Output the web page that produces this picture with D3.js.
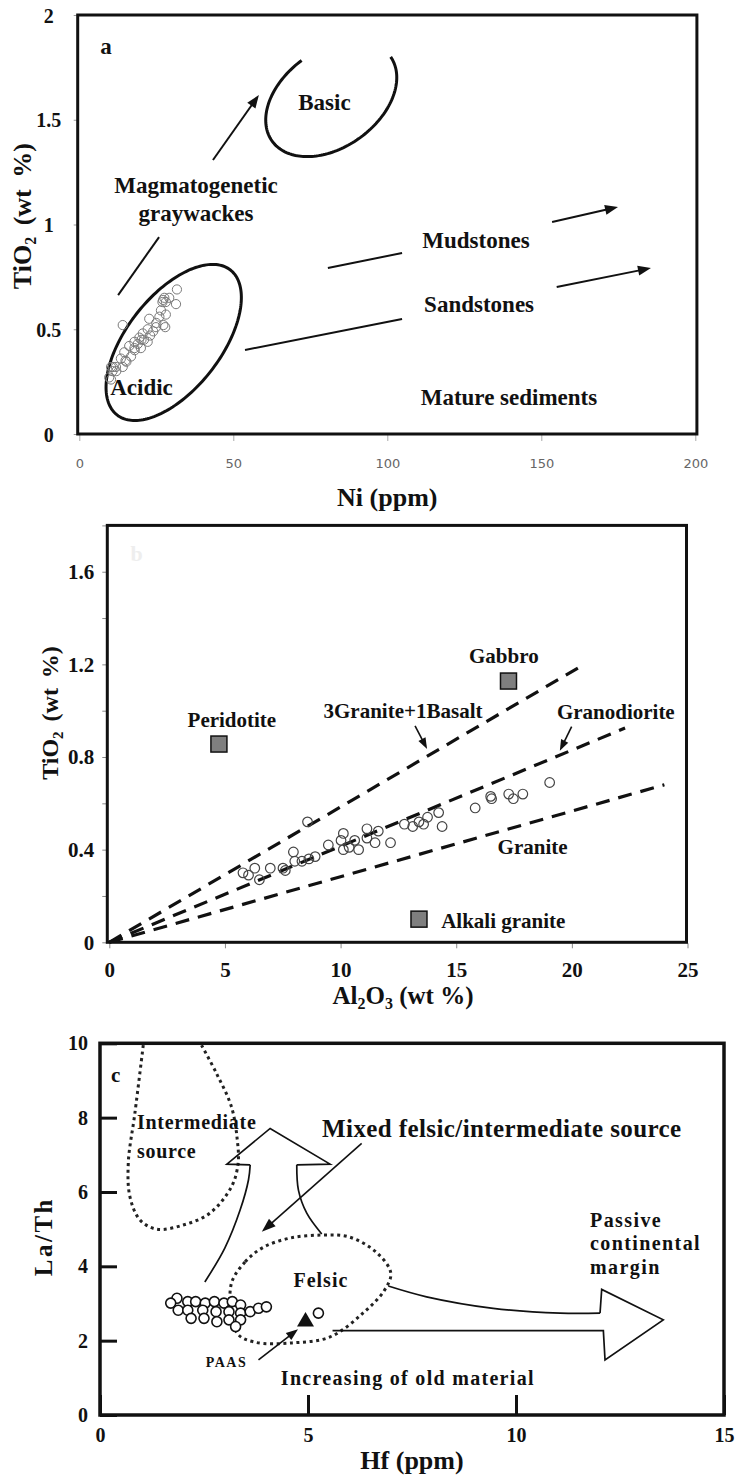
<!DOCTYPE html>
<html><head><meta charset="utf-8">
<script src="https://cdn.jsdelivr.net/npm/d3@7"></script>
<style>
body{margin:0;background:#fff;}
svg text{font-family:"Liberation Serif","Times New Roman",serif;font-weight:bold;fill:#111;}
</style></head><body>
<svg id="chart" width="739" height="1475"></svg>
<script>
// ---------- Panel a: TiO2 vs Ni ----------
const niTicks = [0, 50, 100, 150, 200];
const tiTicksA = [0, 0.5, 1, 1.5, 2];
const niValues = [31.7, 31.4, 29.2, 27.6, 28.1, 26.5, 28.1, 27.3, 22.7, 22.2, 24.9, 20.6, 19.5, 17.9, 22.2, 20.0, 17.9, 16.2, 14.6, 16.8, 13.5, 11.9, 14.1, 10.3, 10.8, 9.7, 14.1, 23.0, 21.0, 19.0, 25.0, 26.0, 18.0, 15.0, 12.0, 27.0, 24.0, 27.9, 27.2, 20.2, 15.3, 10.9, 10.3];
const tiValuesA = [0.69, 0.62, 0.65, 0.65, 0.63, 0.59, 0.57, 0.52, 0.55, 0.50, 0.51, 0.48, 0.46, 0.44, 0.44, 0.41, 0.41, 0.42, 0.39, 0.37, 0.36, 0.32, 0.32, 0.32, 0.30, 0.27, 0.52, 0.47, 0.45, 0.43, 0.53, 0.56, 0.40, 0.35, 0.30, 0.63, 0.49, 0.51, 0.64, 0.45, 0.345, 0.32, 0.26];
// ellipse: centre, first and second semi-axis vectors (data units), arc start/end angle (deg)
const basicField = [81.8, 1.60, 19.3, 0.20, 8.95, -0.19, 0, 268];
const acidicField = [30.65, 0.437, 18.4, 0.346, 12.0, -0.138, 0, 360];
const labelsA = [
  ["Basic", 79.6, 1.585], ["Magmatogenetic", 37.9, 1.19], ["graywackes", 37.9, 1.055],
  ["Mudstones", 128.8, 0.926], ["Sandstones", 129.8, 0.62], ["Acidic", 20.2, 0.224],
  ["Mature sediments", 139.5, 0.177]
];
// [x1, y1, x2, y2, arrowhead?]
const trendsA = [
  [12.6, 0.663, 25.9, 0.94, false], [43.4, 1.308, 58.3, 1.618, true],
  [80.7, 0.792, 104.8, 0.864, false], [153.5, 1.012, 174.9, 1.084, true],
  [53.8, 0.401, 104.8, 0.549, false], [155.0, 0.702, 185.6, 0.792, true]
];

// ---------- Panel b: TiO2 vs Al2O3 ----------
const alTicks = [0, 5, 10, 15, 20, 25];
const tiTicksB = [0, 0.2, 0.4, 0.6, 0.8, 1.0, 1.2, 1.4, 1.6, 1.8];
const alValues = [8.57, 5.78, 6.02, 6.29, 6.49, 6.96, 7.51, 7.61, 7.96, 8.02, 8.33, 8.63, 8.9, 9.47, 10.02, 10.12, 10.12, 10.37, 10.61, 10.78, 11.14, 11.14, 11.49, 11.63, 12.16, 12.76, 13.12, 13.39, 13.59, 13.76, 14.24, 14.39, 15.82, 16.49, 16.53, 17.27, 17.47, 17.88, 19.04];
const tiValuesB = [0.52, 0.30, 0.29, 0.32, 0.27, 0.32, 0.32, 0.31, 0.39, 0.35, 0.35, 0.36, 0.37, 0.42, 0.44, 0.47, 0.40, 0.41, 0.44, 0.40, 0.49, 0.45, 0.43, 0.48, 0.43, 0.51, 0.50, 0.52, 0.51, 0.54, 0.56, 0.50, 0.58, 0.63, 0.62, 0.64, 0.62, 0.64, 0.69];
const rockNames = ["Peridotite", "Gabbro", "Alkali granite"];
const rockAl = [4.74, 17.26, 13.39];
const rockTi = [0.856, 1.128, 0.10];
const mixEndAl = [20.26, 22.3, 24.0];
const mixEndTi = [1.184, 0.925, 0.68];
const labelsB = [
  ["Peridotite", 5.3, 0.96, "middle"], ["Gabbro", 17.06, 1.237, "middle"],
  ["3Granite+1Basalt", 12.7, 1.0, "middle"], ["Granodiorite", 21.9, 0.996, "middle"],
  ["Granite", 18.3, 0.413, "middle"], ["Alkali granite", 14.35, 0.093, "start"]
];
const pointersB = [[13.22, 0.934, 13.74, 0.835], [19.99, 0.931, 19.48, 0.827]];

// ---------- Panel c: La/Th vs Hf ----------
const hfTicks = [0, 5, 10, 15];
const laThTicks = [0, 2, 4, 6, 8, 10];
const hfValues = [1.85, 1.70, 2.11, 2.30, 2.53, 2.75, 2.98, 3.18, 3.38, 1.88, 2.11, 2.47, 2.79, 3.10, 3.38, 2.19, 2.50, 2.81, 3.10, 3.38, 3.26, 3.61, 3.81, 4.00, 5.25];
const laThValues = [3.14, 3.01, 3.05, 3.05, 3.01, 3.05, 3.01, 3.05, 2.96, 2.82, 2.82, 2.82, 2.78, 2.78, 2.74, 2.60, 2.60, 2.51, 2.56, 2.56, 2.38, 2.78, 2.87, 2.91, 2.74];
const paas = [4.94, 2.51];
const intermediateHf = [1.04, 0.84, 0.68, 0.72, 0.96, 1.36, 2.00, 2.64, 3.16, 3.32, 3.30, 3.16, 2.80, 2.44];
const intermediateLaTh = [9.95, 8.13, 6.78, 5.87, 5.25, 5.00, 5.11, 5.43, 6.14, 6.77, 7.40, 8.29, 9.19, 9.95];
const felsicHf = [3.15, 3.49, 3.94, 4.57, 5.31, 5.99, 6.66, 6.99, 6.84, 6.32, 5.53, 4.62, 3.72, 3.29];
const felsicLaTh = [3.50, 4.12, 4.52, 4.76, 4.84, 4.79, 4.36, 3.82, 3.36, 2.74, 2.10, 1.94, 1.96, 2.21];
const upArrowLeft = [[2.52, 3.58], [3.0, 4.49], [3.37, 5.52], [3.57, 6.33], [3.61, 6.73]];
const upArrowHead = [[3.61, 6.73], [3.05, 6.75], [4.09, 7.71], [5.53, 6.75], [4.73, 6.73]];
const upArrowRight = [[4.73, 6.73], [4.77, 6.05], [4.97, 5.43], [5.33, 4.87]];
const rightArrowTop = [[6.93, 3.47], [7.85, 3.18], [9.45, 2.87], [11.06, 2.74], [12.02, 2.74]];
const rightArrowHead = [[12.02, 2.74], [12.06, 3.38], [13.54, 2.56], [12.14, 1.48], [12.10, 2.27], [5.59, 2.27]];
const labelsC = [
  ["Intermediate", 0.89, 7.88, "start", 20, 0.7], ["source", 0.89, 7.10, "start", 20, 0.7],
  ["Mixed felsic/intermediate source", 9.66, 7.72, "middle", 25, 0.4],
  ["Felsic", 5.31, 3.63, "middle", 20, 1],
  ["Passive", 11.78, 5.25, "start", 20, 1.4], ["continental", 11.78, 4.63, "start", 20, 1.4],
  ["margin", 11.78, 3.98, "start", 20, 1.4],
  ["PAAS", 3.04, 1.43, "middle", 14, 1.5],
  ["Increasing of old material", 7.40, 1.0, "middle", 20, 1.3]
];
const pointersC = [[6.29, 7.31, 3.89, 4.93, 14, 10], [3.81, 1.48, 4.76, 2.31, 12, 9]];

const svg = d3.select("#chart");

// straight line with an optional filled arrowhead at its end (pixel coords)
function arrowLine(g, x1, y1, x2, y2, head, len, wid, sw) {
  const dx = x2 - x1, dy = y2 - y1, L = Math.hypot(dx, dy);
  const ux = dx / L, uy = dy / L;
  const ex = head ? x2 - ux * len * 0.8 : x2, ey = head ? y2 - uy * len * 0.8 : y2;
  g.append("line").attr("x1", x1).attr("y1", y1).attr("x2", ex).attr("y2", ey)
    .attr("stroke", "#111").attr("stroke-width", sw);
  if (head) {
    const bx = x2 - ux * len, by = y2 - uy * len;
    const pts = [[x2, y2], [bx - uy * wid / 2, by + ux * wid / 2], [bx + uy * wid / 2, by - ux * wid / 2]];
    g.append("polygon").attr("points", pts.map(p => p.join(",")).join(" ")).attr("fill", "#111");
  }
}

function ellipsePath(x, y, e) {
  const [cx, cy, ax, ay, bx, by, t0, t1] = e;
  const pts = d3.range(t0, t1 + 0.5, 2).map(d => {
    const t = d * Math.PI / 180;
    return [x(cx + Math.cos(t) * ax + Math.sin(t) * bx), y(cy + Math.cos(t) * ay + Math.sin(t) * by)];
  });
  return d3.line()(pts) + (t1 - t0 >= 360 ? "Z" : "");
}

// ===== Panel a =====
(function () {
  const x = d3.scaleLinear().domain([0, 200]).range([79.3, 695.3]);
  const y = d3.scaleLinear().domain([0, 2]).range([434, 15]);
  const g = svg.append("g");

  const ya = g.append("g").attr("transform", `translate(${x(0) - 1.6},0)`)
    .call(d3.axisLeft(y).tickValues(tiTicksA).tickSize(4).tickFormat(d3.format("")));
  ya.select(".domain").remove();
  ya.selectAll("line").attr("stroke", "#999");
  ya.selectAll("text").attr("x", -29).attr("text-anchor", "middle").attr("dy", "0.35em")
    .style("font-size", "20px").style("fill", "#111");

  const xa = g.append("g").attr("transform", `translate(0,${y(0)})`)
    .call(d3.axisBottom(x).tickValues(niTicks).tickSize(7));
  xa.select(".domain").remove();
  xa.selectAll("line").attr("stroke", "#aaa");
  xa.selectAll("text").attr("y", 29).attr("dy", "0.35em")
    .style("font-family", "'DejaVu Sans',sans-serif").style("font-weight", "normal")
    .style("font-size", "13px").style("fill", "#666");

  g.append("rect").attr("x", x(0) - 1.6).attr("y", y(2)).attr("width", x(200) - x(0) + 3.2)
    .attr("height", y(0) - y(2)).attr("fill", "none").attr("stroke", "#111").attr("stroke-width", 3);

  g.append("text").attr("x", x(8.7)).attr("y", y(1.85)).attr("dy", "0.35em")
    .attr("text-anchor", "middle").style("font-size", "23px").text("a");

  [basicField, acidicField].forEach(e => g.append("path").attr("d", ellipsePath(x, y, e))
    .attr("fill", "none").attr("stroke", "#111").attr("stroke-width", 3));

  g.selectAll("circle.pt").data(niValues).join("circle").attr("class", "pt")
    .attr("cx", d => x(d)).attr("cy", (d, i) => y(tiValuesA[i])).attr("r", 4.6)
    .attr("fill", "none").attr("stroke", "#7a7a7a").attr("stroke-width", 1);

  trendsA.forEach(t => arrowLine(g, x(t[0]), y(t[1]), x(t[2]), y(t[3]), t[4], 13, 10, 2));

  labelsA.forEach(l => g.append("text").attr("x", x(l[1])).attr("y", y(l[2])).attr("dy", "0.35em")
    .attr("text-anchor", "middle").style("font-size", "23px").text(l[0]));

  const yt = g.append("text").attr("transform", `translate(31,${y(1.04)}) rotate(-90)`)
    .attr("text-anchor", "middle").style("font-size", "26px").style("word-spacing", "5px");
  yt.append("tspan").text("TiO");
  yt.append("tspan").attr("dy", 5).style("font-size", "16px").text("2");
  yt.append("tspan").attr("dy", -5).text(" (wt  %)");

  g.append("text").attr("x", x(100)).attr("y", 497).attr("dy", "0.35em").attr("text-anchor", "middle")
    .style("font-size", "26px").text("Ni (ppm)");
})();

// ===== Panel b =====
(function () {
  const x = d3.scaleLinear().domain([0, 25]).range([109.3, 687.5]);
  const y = d3.scaleLinear().domain([0, 1.8]).range([942.3, 525.4]);
  const g = svg.append("g");

  const ya = g.append("g").attr("transform", `translate(${x(0) - 2},0)`)
    .call(d3.axisLeft(y).tickValues(tiTicksB).tickSize(5).tickPadding(8)
      .tickFormat(d => (Math.round(d * 10) % 4 === 0) ? (d === 0 ? "0" : d3.format(".1f")(d)) : ""));
  ya.select(".domain").remove();
  ya.selectAll("line").attr("stroke", "#888");
  ya.selectAll("text").style("font-size", "21px").style("fill", "#111");

  const xa = g.append("g").attr("transform", `translate(0,${y(0) + 1})`)
    .call(d3.axisBottom(x).tickValues(alTicks).tickSize(5));
  xa.select(".domain").remove();
  xa.selectAll("line").attr("stroke", "#888");
  xa.selectAll("text").attr("y", 26).attr("dy", "0.35em").style("font-size", "21px").style("fill", "#111");

  g.append("rect").attr("x", x(0) - 2).attr("y", y(1.8)).attr("width", x(25) - x(0) + 1)
    .attr("height", y(0) - y(1.8)).attr("fill", "none").attr("stroke", "#111").attr("stroke-width", 3);

  g.append("text").attr("x", x(1.18)).attr("y", y(1.68)).attr("dy", "0.35em").attr("text-anchor", "middle")
    .style("font-size", "22px").style("fill", "#eeeeee").text("b");

  mixEndAl.forEach((a, i) => g.append("line").attr("x1", x(0)).attr("y1", y(0))
    .attr("x2", x(a)).attr("y2", y(mixEndTi[i])).attr("stroke", "#111")
    .attr("stroke-width", 3.2).attr("stroke-dasharray", "14,9"));

  g.selectAll("circle.pt").data(alValues).join("circle").attr("class", "pt")
    .attr("cx", d => x(d)).attr("cy", (d, i) => y(tiValuesB[i])).attr("r", 4.8)
    .attr("fill", "none").attr("stroke", "#444").attr("stroke-width", 1.2);

  g.selectAll("rect.rock").data(rockAl).join("rect").attr("class", "rock")
    .attr("x", d => x(d) - 8).attr("y", (d, i) => y(rockTi[i]) - 8).attr("width", 16).attr("height", 16)
    .attr("fill", "#7f7f7f").attr("stroke", "#111").attr("stroke-width", 1.5);

  pointersB.forEach(p => arrowLine(g, x(p[0]), y(p[1]), x(p[2]), y(p[3]), true, 11, 8, 1.6));

  labelsB.forEach(l => g.append("text").attr("x", x(l[1])).attr("y", y(l[2])).attr("dy", "0.35em")
    .attr("text-anchor", l[3]).style("font-size", "21px").text(l[0]));

  const yt = g.append("text").attr("transform", `translate(58,${y(0.99)}) rotate(-90)`)
    .attr("text-anchor", "middle").style("font-size", "24px").style("word-spacing", "4px");
  yt.append("tspan").text("TiO");
  yt.append("tspan").attr("dy", 5).style("font-size", "15px").text("2");
  yt.append("tspan").attr("dy", -5).text(" (wt  %)");

  const xt = g.append("text").attr("x", x(12.7)).attr("y", 995).attr("dy", "0.35em")
    .attr("text-anchor", "middle").style("font-size", "25px");
  xt.append("tspan").text("Al");
  xt.append("tspan").attr("dy", 5).style("font-size", "16px").text("2");
  xt.append("tspan").attr("dy", -5).text("O");
  xt.append("tspan").attr("dy", 5).style("font-size", "16px").text("3");
  xt.append("tspan").attr("dy", -5).text(" (wt %)");
})();

// ===== Panel c =====
(function () {
  const x = d3.scaleLinear().domain([0, 15]).range([100, 724]);
  const y = d3.scaleLinear().domain([0, 10]).range([1415, 1043.3]);
  const g = svg.append("g");

  const ya = g.append("g").attr("transform", `translate(${x(0)},0)`)
    .call(d3.axisLeft(y).tickValues(laThTicks).tickSize(-17).tickPadding(12));
  ya.select(".domain").remove();
  ya.selectAll("line").attr("stroke", "#111").attr("stroke-width", 3);
  ya.selectAll("text").style("font-size", "20px").style("fill", "#111");

  const xa = g.append("g").attr("transform", `translate(0,${y(0)})`)
    .call(d3.axisBottom(x).tickValues(hfTicks).tickSize(-20));
  xa.select(".domain").remove();
  xa.selectAll("line").attr("stroke", "#111").attr("stroke-width", 3);
  xa.selectAll("text").attr("y", 20).attr("dy", "0.35em").style("font-size", "20px").style("fill", "#111");

  g.append("rect").attr("x", x(0)).attr("y", y(10)).attr("width", x(15) - x(0))
    .attr("height", y(0) - y(10)).attr("fill", "none").attr("stroke", "#111").attr("stroke-width", 3.5);

  g.append("text").attr("x", x(0.375)).attr("y", y(9.15)).attr("dy", "0.35em").attr("text-anchor", "middle")
    .style("font-size", "21px").text("c");

  const curve = d3.line().x(d => x(d[0])).y(d => y(d[1])).curve(d3.curveCatmullRom);
  const closed = d3.line().x(d => x(d[0])).y(d => y(d[1])).curve(d3.curveCatmullRomClosed);
  const poly = d3.line().x(d => x(d[0])).y(d => y(d[1]));

  g.append("path").attr("d", curve(intermediateHf.map((h, i) => [h, intermediateLaTh[i]])))
    .attr("fill", "none").attr("stroke", "#222").attr("stroke-width", 3).attr("stroke-dasharray", "3,3.6");
  g.append("path").attr("d", closed(felsicHf.map((h, i) => [h, felsicLaTh[i]])))
    .attr("fill", "none").attr("stroke", "#222").attr("stroke-width", 3).attr("stroke-dasharray", "3,3.6");

  [[upArrowLeft, curve], [upArrowHead, poly], [upArrowRight, curve], [rightArrowTop, curve], [rightArrowHead, poly]]
    .forEach(([pts, gen]) => g.append("path").attr("d", gen(pts)).attr("fill", "none")
      .attr("stroke", "#111").attr("stroke-width", 1.7).attr("stroke-linejoin", "miter"));

  pointersC.forEach(p => arrowLine(g, x(p[0]), y(p[1]), x(p[2]), y(p[3]), true, p[4], p[5], 1.6));

  g.selectAll("circle.pt").data(hfValues).join("circle").attr("class", "pt")
    .attr("cx", d => x(d)).attr("cy", (d, i) => y(laThValues[i])).attr("r", 5)
    .attr("fill", "#fff").attr("stroke", "#111").attr("stroke-width", 1.6);

  g.append("path").attr("d", d3.symbol(d3.symbolTriangle, 125)())
    .attr("transform", `translate(${x(paas[0])},${y(paas[1])})`).attr("fill", "#111");

  labelsC.forEach(l => g.append("text").attr("x", x(l[1])).attr("y", y(l[2])).attr("dy", "0.35em")
    .attr("text-anchor", l[3]).style("font-size", l[4] + "px").style("letter-spacing", l[5] + "px").text(l[0]));

  g.append("text").attr("transform", `translate(52,${y(4.8)}) rotate(-90)`).attr("text-anchor", "middle")
    .style("font-size", "25px").style("letter-spacing", "2.5px").text("La/Th");
  g.append("text").attr("x", x(7.5)).attr("y", 1460).attr("dy", "0.35em").attr("text-anchor", "middle")
    .style("font-size", "26px").text("Hf (ppm)");
})();
</script>
</body></html>
